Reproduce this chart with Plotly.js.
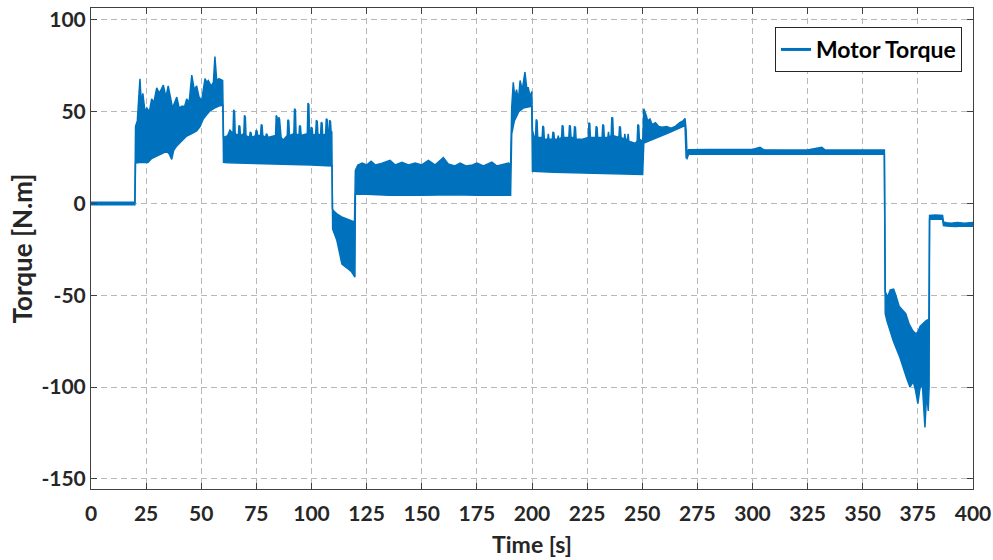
<!DOCTYPE html>
<html>
<head>
<meta charset="utf-8">
<script src="https://cdn.plot.ly/plotly-3.0.1.min.js"></script>
<style>html,body{margin:0;padding:0;background:#fff;}#chart{width:993px;height:560px;}</style>
</head>
<body>
<div id="chart"></div>
<script>
// Upper envelope of the Motor Torque signal (time [s], torque [N.m])
const upperTime = [0, 19.9, 20.2, 21, 22.2, 22.8, 23.5, 24.5, 25.3, 26.5, 27.5, 28.5, 29.8, 31, 32.8, 34, 35, 36, 37, 38.9, 40, 41.1, 42.5, 43.4, 44.5, 45.7, 46.8, 47.9, 49, 50.2, 51.7, 52.5, 53.2, 54.5, 55.5, 56.2, 57, 58, 59.7,
  60.1, 62, 63,
  64.4, 64.7, 65.1, 65.4,
  66.8, 67.1, 67.5, 67.8,
  69.3, 69.6, 70, 70.3,
  71.9, 72.2, 72.6, 72.9,
  74.6, 74.9, 75.3, 75.6,
  76.9, 77.2, 77.6, 77.9,
  79.2, 79.5, 79.9, 80.2,
  83.7, 84, 84.4, 84.8, 85.2, 85.5, 85.9, 86.2,
  86.9, 87.2, 87.5,
  89, 89.3, 89.7, 90,
  92, 92.3, 92.7, 93,
  94.3, 94.6, 95, 95.3,
  98.1, 98.4, 98.8, 99.1,
  99.6, 99.9, 100.3, 100.6,
  101.9, 102.2, 102.6, 102.9,
  104.1, 104.4, 104.8, 105.1,
  106.4, 106.7, 107.1, 107.4,
  107.9, 108.2, 108.6, 108.9,
  109.2,
  109.5, 110, 111.5, 114, 116, 118, 119.5,
  119.9, 121, 123, 125, 127, 129, 132, 135.6, 138, 141, 144, 147, 150, 153, 156, 159.8, 162, 165, 167.4, 170, 173, 175, 178, 181.8, 184, 187, 189.4, 190.3,
  190.8, 191.5, 192.2, 193, 193.8, 194.6, 195.6, 196.8, 197.6, 198.3, 199.2, 199.9,
  200.2, 201,
  201.6, 201.9, 202.3, 202.6,
  204.6, 204.9, 205.3, 205.6,
  207.1, 207.4, 207.7,
  209.2, 209.5, 209.9, 210.2,
  211.6, 211.9, 212.2,
  213.4, 213.7, 214.1, 214.4,
  216.7, 217, 217.4, 217.7,
  219, 219.3, 219.7, 220,
  222.2, 222.5, 222.8,
  225.5, 225.8, 226.2, 226.5,
  228.8, 229.1, 229.5, 229.8,
  231.8, 232.1, 232.5, 232.8,
  234.4, 234.7, 235,
  235.9, 236.2, 236.6, 236.9,
  239.4, 239.7, 240.1, 240.4,
  241.8, 242.1, 242.4,
  243.3, 243.6, 243.9,
  246.4, 246.7, 247,
  247.7, 248, 248.4, 248.7,
  250.2,
  250.7, 251.8, 252.5, 253.5, 254.5, 256, 257.5, 259, 261, 263, 265, 267, 268.5, 269.4, 269.9,
  270.3, 271, 280, 290, 300, 303.4, 305, 315, 325, 331.4, 333, 345, 359.8,
  360.2, 361.2, 362.5, 364, 365, 366.5, 368, 369.5, 371, 372.5, 374, 375, 376, 377.5, 378.5, 380,
  380.3, 383, 386.2, 386.6, 388, 390, 393, 396, 400];
const upperTorque = [0.7, 0.7, 42, 45, 68, 55, 60, 50, 52, 50, 57, 55, 63, 60, 64.5, 58, 64, 58, 52, 58, 52, 53, 53, 57, 55, 70, 62, 64, 58, 56, 68, 66, 67, 64, 66, 80, 67, 68, 67,
  36, 37, 40,
  38, 51, 50, 38,
  37, 42.5, 42, 37,
  38, 48, 47, 37,
  36, 39, 38.5, 36,
  37, 40, 39.5, 37,
  37, 43, 42.5, 37,
  36, 38, 37.5, 36,
  37, 48, 47, 39, 47, 46, 37, 36,
  35, 27, 35,
  37, 45.6, 45, 37,
  38, 51.6, 51, 38,
  37, 42.5, 42, 37,
  38, 54.7, 54, 38,
  38, 41.6, 41, 37,
  38, 45.3, 44.8, 38,
  37, 44.3, 43.8, 37,
  38, 46.2, 45.7, 38,
  38, 45.3, 44.8, 39,
  39,
  -3, -4, -5.6, -7.5, -8.4, -9.5, -10,
  18, 21, 22, 21, 23, 21, 22, 23.5, 21, 22.5, 21, 22, 21, 23.5, 21, 25, 21.5, 20.5, 22, 20.5, 21, 22, 20.5, 22.5, 20.5, 21.5, 22, 21,
  52, 66, 58, 62, 56, 67, 62, 71.6, 63, 63, 58, 61,
  40, 36,
  36, 45.8, 45, 36,
  36, 42.2, 41.5, 35,
  35, 38, 35,
  35, 39, 38.5, 35,
  35, 37, 35,
  36, 42.6, 42, 36,
  36, 42.6, 42, 36,
  36, 42, 41.5, 35,
  35, 26, 35,
  36, 44, 43.5, 36,
  36, 42, 41.5, 36,
  36, 43, 42.5, 36,
  36, 39, 36,
  37, 47, 46.5, 37,
  36, 42, 41.5, 36,
  35, 38, 35,
  35, 38, 34,
  33, 27, 33,
  34, 43, 42.5, 35,
  34,
  51.6, 48, 45, 46, 43, 44, 42, 41.5, 42, 41, 42, 44, 45, 46.4, 40,
  26.5, 29.3, 29.4, 29.2, 29.4, 30.6, 29.3, 29.2, 29.1, 30.6, 29.1, 29.2, 29.2,
  -48, -51, -47, -46.6, -50, -56, -58, -60, -65.6, -69, -71, -70, -67, -65, -64, -63,
  -6.5, -6.3, -6.5, -10, -10.5, -10.7, -10.4, -10.7, -10.4];

// Lower envelope of the Motor Torque signal
const lowerTime = [0, 19.9, 20.2, 22, 25.8, 27.5, 29.8, 32, 34.3, 35.5, 36.6, 37.5, 38.9, 41, 43.4, 45.5, 47.9, 49.5, 50.9, 52.5, 54, 56, 58.5, 59.8,
  60.1, 62, 70, 80, 90, 100, 109.3,
  109.6, 111.5, 113.8, 116, 118, 119.7,
  119.9, 125, 135, 150, 165, 175, 190.3,
  190.8, 192, 194, 196, 199.9,
  200.2, 210, 220, 230, 240, 250.2,
  250.7, 253, 256, 259, 262, 265, 268, 269.4, 269.9,
  270.3, 271, 300, 330, 359.8,
  360.2, 361, 363.9, 366.9, 369.9, 371.4, 372.9, 373.8, 375, 375.9, 377, 378.2, 379, 379.7, 380.1,
  380.3, 386.2, 386.6, 388, 392, 396, 400];
const lowerTorque = [-0.7, -0.7, 22, 22.4, 22.4, 24.5, 25.9, 27, 28.6, 27, 24, 29, 31.4, 34, 36.8, 38, 39.6, 42, 46, 48.5, 50.5, 52, 53.3, 53.5,
  22.4, 22.2, 22, 21.5, 21.3, 21, 20.5,
  -14, -20, -33, -35, -37, -40,
  5, 5, 4.5, 4.5, 4.8, 4.5, 4.5,
  38, 45, 50, 52, 53,
  17.5, 17, 16.8, 16.5, 16.2, 15.8,
  33, 34, 35.5, 37, 38.5, 40, 41.5, 42.5, 25,
  24.5, 26.8, 26.8, 26.8, 26.8,
  -60, -64, -75, -84, -95, -100, -97, -101, -109, -101, -98, -122, -103, -113, -100,
  -8.5, -8.5, -12, -12.3, -12.5, -12.2, -12.4];

const seriesName = 'Motor Torque';
const xTicks = [0, 25, 50, 75, 100, 125, 150, 175, 200, 225, 250, 275, 300, 325, 350, 375, 400];
const yTicks = [-150, -100, -50, 0, 50, 100];

const blue = '#0072BD';
const font = {family: 'Lato, "Open Sans", sans-serif', weight: 700, color: '#262626'};

const traces = [
  {x: lowerTime, y: lowerTorque, mode: 'lines', line: {color: blue, width: 1.5}, showlegend: false, hoverinfo: 'skip'},
  {x: upperTime, y: upperTorque, mode: 'lines', line: {color: blue, width: 1.5}, fill: 'tonexty', fillcolor: blue, showlegend: false, hoverinfo: 'skip'},
  {x: [null], y: [null], mode: 'lines', name: seriesName, line: {color: blue, width: 3}, showlegend: true}
];

const axisCommon = {
  showline: true, mirror: 'ticks', linecolor: '#404040', linewidth: 1,
  ticks: 'inside', ticklen: 6, tickcolor: '#404040', tickwidth: 1,
  showgrid: true, gridcolor: '#b8b8b8', gridwidth: 1, griddash: '6px,4px',
  zeroline: false,
  tickfont: Object.assign({size: 21}, font)
};

const layout = {
  width: 993, height: 560,
  margin: {l: 91, r: 20, t: 8, b: 71},
  paper_bgcolor: '#fff', plot_bgcolor: '#fff',
  showlegend: true,
  legend: {
    x: 0.9875, y: 0.9605, xanchor: 'right', yanchor: 'top',
    bgcolor: '#fff', bordercolor: '#262626', borderwidth: 1,
    font: Object.assign({size: 23}, font, {color: '#000'}),
    tracegroupgap: 0, itemwidth: 30
  },
  xaxis: Object.assign({}, axisCommon, {
    range: [0, 400], tickmode: 'array', tickvals: xTicks, ticktext: xTicks.map(String),
    ticklabelstandoff: 6,
    title: {text: 'Time [s]', font: Object.assign({size: 23}, font), standoff: 12},
    automargin: false
  }),
  yaxis: Object.assign({}, axisCommon, {
    range: [-155.5, 106.5], tickmode: 'array', tickvals: yTicks, ticktext: yTicks.map(String),
    title: {text: 'Torque [N.m]', font: Object.assign({size: 26}, font), standoff: 1},
    automargin: false
  })
};

Plotly.newPlot('chart', traces, layout, {displayModeBar: false, staticPlot: true});
</script>
</body>
</html>
